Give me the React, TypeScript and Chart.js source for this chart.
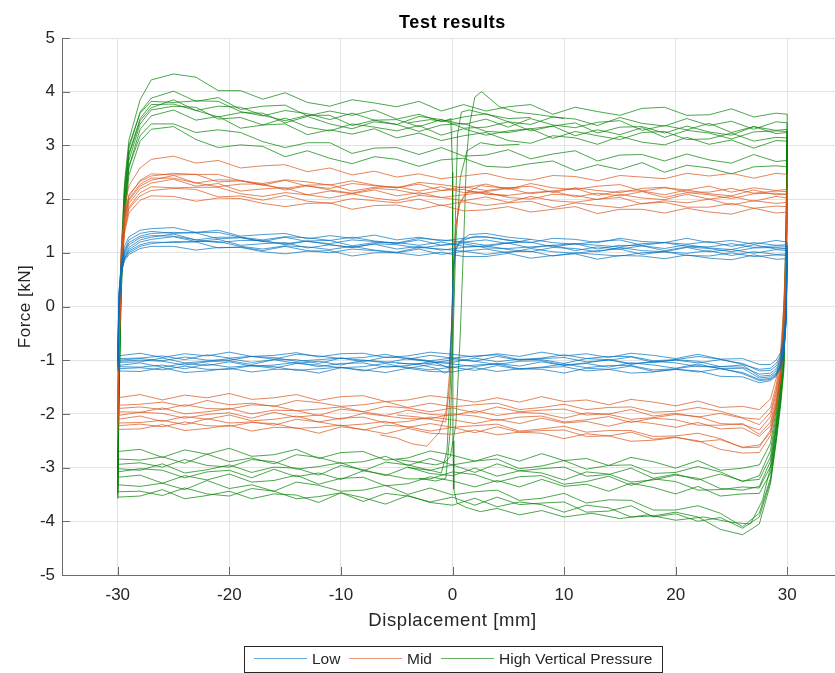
import { useEffect, useRef } from "react";
import { Chart, registerables } from "chart.js";

Chart.register(...registerables);

// Axis ticks
const X_TICKS = [-30, -20, -10, 0, 10, 20, 30];
const Y_TICKS = [-5, -4, -3, -2, -1, 0, 1, 2, 3, 4, 5];

// Series names and colours (r, g, b)
const SERIES_NAMES = ["Low", "Mid", "High Vertical Pressure"];
const SERIES_RGB = ["0, 114, 189", "217, 83, 25", "0, 128, 0"];

// Displacement [mm] along the loading branch (moving right) and the unloading branch (moving left)
const X_UP = [-30, -29.9, -29.7, -29.4, -29, -28, -27, -25, -23, -21, -19, -17, -15, -13, -11, -9, -7, -5, -3, -1, 1, 3, 5, 7, 9, 11, 13, 15, 17, 19, 21, 23, 25, 27, 29, 30];
const X_DOWN = [30, 29.9, 29.7, 29.4, 29, 28.5, 27.5, 26, 24, 22, 20, 18, 16, 14, 12, 10, 8, 6, 4, 2, 0, -2, -4, -6, -8, -10, -12, -14, -16, -18, -20, -22, -24, -26, -28, -30];

// Force [kN] — low vertical pressure
const LOW_UP = [
  [-1.02, 0.15, 0.80, 1.12, 1.30, 1.42, 1.45, 1.47, 1.38, 1.42, 1.31, 1.34, 1.36, 1.26, 1.32, 1.27, 1.33, 1.24, 1.29, 1.22, 1.27, 1.30, 1.23, 1.19, 1.27, 1.25, 1.19, 1.27, 1.21, 1.19, 1.27, 1.19, 1.23, 1.16, 1.23, 1.20],
  [-1.10, 0.02, 0.72, 1.05, 1.24, 1.36, 1.40, 1.36, 1.38, 1.38, 1.29, 1.24, 1.30, 1.28, 1.23, 1.29, 1.22, 1.18, 1.27, 1.24, 1.20, 1.24, 1.17, 1.25, 1.19, 1.16, 1.21, 1.24, 1.14, 1.19, 1.16, 1.21, 1.12, 1.19, 1.14, 1.15],
  [-0.98, 0.22, 0.76, 1.02, 1.19, 1.31, 1.36, 1.38, 1.37, 1.26, 1.28, 1.21, 1.29, 1.21, 1.17, 1.24, 1.21, 1.17, 1.24, 1.14, 1.20, 1.14, 1.19, 1.20, 1.11, 1.17, 1.14, 1.11, 1.17, 1.19, 1.12, 1.11, 1.17, 1.10, 1.13, 1.12],
  [-1.16, -0.08, 0.63, 0.98, 1.15, 1.28, 1.32, 1.31, 1.24, 1.29, 1.29, 1.21, 1.17, 1.22, 1.23, 1.13, 1.19, 1.19, 1.14, 1.20, 1.12, 1.12, 1.18, 1.09, 1.14, 1.17, 1.07, 1.14, 1.13, 1.08, 1.15, 1.09, 1.06, 1.15, 1.07, 1.08],
  [-1.05, 0.10, 0.66, 0.94, 1.10, 1.24, 1.29, 1.35, 1.24, 1.19, 1.23, 1.23, 1.15, 1.22, 1.15, 1.10, 1.17, 1.15, 1.09, 1.14, 1.17, 1.09, 1.08, 1.11, 1.14, 1.04, 1.11, 1.07, 1.13, 1.04, 1.11, 1.08, 1.02, 1.09, 1.10, 1.08],
  [-1.21, -0.12, 0.57, 0.90, 1.06, 1.20, 1.25, 1.30, 1.21, 1.25, 1.14, 1.17, 1.19, 1.09, 1.15, 1.10, 1.16, 1.07, 1.12, 1.05, 1.10, 1.13, 1.06, 1.02, 1.10, 1.08, 1.02, 1.10, 1.04, 1.02, 1.10, 1.02, 1.06, 0.99, 1.06, 1.04],
  [-0.94, 0.26, 0.70, 0.90, 1.03, 1.15, 1.20, 1.19, 1.21, 1.21, 1.12, 1.07, 1.13, 1.11, 1.06, 1.12, 1.05, 1.01, 1.10, 1.07, 1.03, 1.07, 1.00, 1.08, 1.02, 0.99, 1.04, 1.07, 0.97, 1.02, 0.99, 1.04, 0.95, 1.02, 0.97, 0.98],
  [-1.12, 0.00, 0.62, 0.88, 1.00, 1.12, 1.17, 1.21, 1.20, 1.09, 1.11, 1.04, 1.12, 1.04, 1.00, 1.07, 1.04, 1.00, 1.07, 0.97, 1.03, 0.97, 1.02, 1.03, 0.94, 1.00, 0.97, 0.94, 1.00, 1.02, 0.95, 0.94, 1.00, 0.93, 0.96, 0.95],
  [-1.00, 0.18, 0.65, 0.85, 0.97, 1.08, 1.12, 1.12, 1.05, 1.10, 1.10, 1.02, 0.98, 1.03, 1.04, 0.94, 1.00, 1.00, 0.95, 1.01, 0.93, 0.93, 0.99, 0.90, 0.95, 0.98, 0.88, 0.95, 0.94, 0.89, 0.96, 0.90, 0.87, 0.96, 0.88, 0.89],
];
const LOW_DOWN = [
  [1.20, -0.02, -0.58, -0.86, -1.00, -1.08, -1.08, -0.97, -0.98, -0.89, -0.97, -0.91, -0.87, -0.95, -0.88, -0.92, -0.85, -0.93, -0.88, -0.94, -0.89, -0.85, -0.92, -0.95, -0.87, -0.88, -0.94, -0.86, -0.91, -0.93, -0.85, -0.92, -0.88, -0.95, -0.87, -0.92],
  [1.15, -0.08, -0.64, -0.92, -1.06, -1.15, -1.17, -1.08, -0.98, -0.93, -0.99, -1.01, -0.93, -0.93, -0.97, -0.90, -0.96, -0.99, -0.90, -0.92, -0.96, -0.91, -0.98, -0.89, -0.95, -0.97, -0.92, -0.89, -0.98, -0.93, -0.96, -0.90, -0.99, -0.92, -0.96, -0.97],
  [1.12, -0.12, -0.70, -0.97, -1.11, -1.19, -1.20, -1.06, -0.99, -1.05, -1.00, -1.04, -0.94, -1.00, -1.03, -0.95, -0.97, -1.00, -0.93, -1.02, -0.96, -1.01, -0.96, -0.94, -1.03, -0.96, -0.99, -1.02, -0.95, -0.93, -1.00, -1.00, -0.94, -1.01, -0.97, -1.00],
  [1.08, -0.18, -0.75, -1.01, -1.16, -1.24, -1.26, -1.13, -1.12, -1.02, -0.99, -1.04, -1.06, -0.99, -0.97, -1.06, -0.99, -0.98, -1.03, -0.96, -1.04, -1.03, -0.97, -1.05, -1.00, -0.96, -1.06, -0.99, -0.99, -1.04, -0.97, -1.02, -1.05, -0.96, -1.03, -1.04],
  [1.08, -0.22, -0.80, -1.05, -1.20, -1.28, -1.30, -1.09, -1.12, -1.12, -1.05, -1.02, -1.08, -0.99, -1.05, -1.09, -1.01, -1.02, -1.08, -1.02, -0.99, -1.06, -1.07, -1.03, -1.00, -1.09, -1.02, -1.06, -0.99, -1.08, -1.01, -1.03, -1.09, -1.02, -1.00, -1.02],
  [1.04, -0.26, -0.84, -1.09, -1.24, -1.31, -1.33, -1.15, -1.16, -1.07, -1.15, -1.09, -1.05, -1.13, -1.06, -1.10, -1.03, -1.11, -1.06, -1.12, -1.07, -1.03, -1.10, -1.13, -1.05, -1.06, -1.12, -1.04, -1.09, -1.11, -1.03, -1.10, -1.06, -1.13, -1.05, -1.10],
  [0.98, -0.30, -0.88, -1.13, -1.28, -1.36, -1.38, -1.25, -1.15, -1.10, -1.16, -1.18, -1.10, -1.10, -1.14, -1.07, -1.13, -1.16, -1.07, -1.09, -1.13, -1.08, -1.15, -1.06, -1.12, -1.14, -1.09, -1.06, -1.15, -1.10, -1.13, -1.07, -1.16, -1.09, -1.13, -1.12],
  [0.95, -0.24, -0.82, -1.10, -1.26, -1.34, -1.36, -1.23, -1.16, -1.22, -1.17, -1.21, -1.11, -1.17, -1.20, -1.12, -1.14, -1.17, -1.10, -1.19, -1.13, -1.18, -1.13, -1.11, -1.20, -1.13, -1.16, -1.19, -1.12, -1.10, -1.17, -1.17, -1.11, -1.18, -1.14, -1.16],
  [0.89, -0.28, -0.86, -1.14, -1.30, -1.38, -1.42, -1.31, -1.30, -1.20, -1.17, -1.22, -1.24, -1.17, -1.15, -1.24, -1.17, -1.16, -1.21, -1.14, -1.22, -1.21, -1.15, -1.23, -1.18, -1.14, -1.24, -1.17, -1.17, -1.22, -1.15, -1.20, -1.23, -1.14, -1.21, -1.20],
];
// Short reversals around zero displacement
const LOW_ZERO_X = [
  [-5, -3, -1.5, -0.7, -0.3, -0.1, 0, 0.1, 0.3, 0.7, 1.5, 3, 5, 7],
  [-4, -2, -0.8, -0.3, -0.1, 0, 0.1, 0.3, 0.8, 2, 4, 6],
];
const LOW_ZERO_Y = [
  [-1.05, -1.08, -1.15, -1.24, -1.2, -0.6, 0.1, 0.7, 1.05, 1.22, 1.34, 1.36, 1.29, 1.25],
  [-0.98, -1.02, -1.1, -1.15, -0.4, 0.3, 0.85, 1.1, 1.22, 1.31, 1.27, 1.21],
];

// Force [kN] — mid vertical pressure
const MID_UP = [
  [-1.72, -0.30, 1.05, 1.85, 2.25, 2.58, 2.74, 2.80, 2.67, 2.72, 2.58, 2.62, 2.64, 2.51, 2.58, 2.45, 2.52, 2.41, 2.47, 2.38, 2.43, 2.48, 2.38, 2.35, 2.44, 2.42, 2.34, 2.44, 2.41, 2.38, 2.48, 2.43, 2.48, 2.39, 2.48, 2.46],
  [-2.05, -0.65, 0.80, 1.65, 2.05, 2.35, 2.47, 2.45, 2.46, 2.46, 2.34, 2.29, 2.36, 2.32, 2.26, 2.34, 2.26, 2.21, 2.31, 2.27, 2.21, 2.28, 2.18, 2.29, 2.21, 2.18, 2.24, 2.27, 2.15, 2.21, 2.17, 2.24, 2.13, 2.21, 2.16, 2.18],
  [-1.88, -0.50, 0.90, 1.70, 2.08, 2.33, 2.43, 2.48, 2.46, 2.32, 2.34, 2.26, 2.35, 2.24, 2.20, 2.29, 2.25, 2.21, 2.28, 2.16, 2.23, 2.16, 2.21, 2.24, 2.12, 2.21, 2.16, 2.12, 2.20, 2.22, 2.13, 2.13, 2.20, 2.11, 2.15, 2.14],
  [-2.15, -0.80, 0.70, 1.58, 2.00, 2.28, 2.39, 2.39, 2.30, 2.36, 2.35, 2.26, 2.20, 2.26, 2.27, 2.15, 2.22, 2.23, 2.15, 2.23, 2.12, 2.14, 2.20, 2.10, 2.15, 2.20, 2.07, 2.15, 2.15, 2.08, 2.17, 2.10, 2.06, 2.17, 2.08, 2.10],
  [-1.95, -0.55, 0.85, 1.62, 1.98, 2.24, 2.35, 2.44, 2.30, 2.23, 2.28, 2.28, 2.17, 2.25, 2.17, 2.11, 2.20, 2.17, 2.09, 2.16, 2.18, 2.09, 2.07, 2.12, 2.15, 2.04, 2.11, 2.06, 2.14, 2.03, 2.12, 2.08, 2.01, 2.10, 2.11, 2.08],
  [-2.25, -0.90, 0.60, 1.50, 1.92, 2.19, 2.30, 2.37, 2.24, 2.29, 2.15, 2.19, 2.21, 2.08, 2.15, 2.10, 2.17, 2.06, 2.12, 2.03, 2.08, 2.13, 2.03, 2.00, 2.09, 2.07, 1.99, 2.09, 2.02, 1.99, 2.09, 2.00, 2.05, 1.96, 2.05, 2.02],
  [-2.32, -1.00, 0.50, 1.42, 1.85, 2.12, 2.23, 2.21, 2.22, 2.22, 2.10, 2.05, 2.12, 2.08, 2.02, 2.10, 2.02, 1.97, 2.07, 2.03, 1.97, 2.04, 1.94, 2.05, 1.97, 1.94, 2.00, 2.03, 1.91, 1.97, 1.93, 2.00, 1.89, 1.97, 1.92, 1.94],
  [-2.08, -0.70, 0.65, 1.45, 1.82, 2.06, 2.16, 2.20, 2.18, 2.04, 2.06, 1.98, 2.07, 1.96, 1.92, 2.01, 1.97, 1.93, 2.00, 1.88, 1.95, 1.88, 1.93, 1.96, 1.84, 1.93, 1.88, 1.84, 1.92, 1.94, 1.85, 1.85, 1.92, 1.83, 1.87, 1.86],
  [-2.20, -0.85, 0.55, 1.36, 1.74, 1.98, 2.06, 2.05, 1.96, 2.02, 2.01, 1.92, 1.86, 1.92, 1.93, 1.81, 1.88, 1.89, 1.81, 1.89, 1.78, 1.80, 1.86, 1.76, 1.81, 1.86, 1.73, 1.81, 1.81, 1.74, 1.83, 1.76, 1.72, 1.83, 1.74, 1.76],
];
const MID_DOWN = [
  [2.46, 1.30, 0.05, -0.85, -1.35, -1.72, -1.92, -1.86, -1.88, -1.76, -1.85, -1.78, -1.73, -1.83, -1.74, -1.77, -1.68, -1.78, -1.70, -1.78, -1.71, -1.66, -1.74, -1.77, -1.66, -1.68, -1.75, -1.64, -1.70, -1.73, -1.62, -1.70, -1.65, -1.74, -1.64, -1.70],
  [2.18, 1.05, -0.15, -1.00, -1.48, -1.88, -2.10, -2.07, -1.95, -1.88, -1.95, -1.97, -1.87, -1.88, -1.92, -1.82, -1.88, -1.92, -1.80, -1.83, -1.87, -1.80, -1.88, -1.77, -1.83, -1.86, -1.79, -1.75, -1.86, -1.80, -1.83, -1.75, -1.86, -1.78, -1.82, -1.84],
  [2.14, 0.95, -0.25, -1.08, -1.56, -1.97, -2.20, -2.08, -1.99, -2.06, -1.99, -2.04, -1.92, -2.00, -2.02, -1.91, -1.93, -1.96, -1.87, -1.98, -1.89, -1.96, -1.89, -1.86, -1.96, -1.87, -1.91, -1.94, -1.85, -1.83, -1.91, -1.90, -1.83, -1.92, -1.87, -1.90],
  [2.10, 0.85, -0.35, -1.15, -1.62, -2.05, -2.30, -2.20, -2.18, -2.05, -2.01, -2.07, -2.10, -2.01, -1.98, -2.08, -1.99, -1.97, -2.03, -1.94, -2.03, -2.01, -1.93, -2.03, -1.96, -1.91, -2.03, -1.94, -1.93, -2.00, -1.90, -1.96, -2.00, -1.89, -1.97, -1.96],
  [2.08, 0.75, -0.45, -1.22, -1.70, -2.15, -2.38, -2.18, -2.21, -2.21, -2.11, -2.08, -2.16, -2.05, -2.11, -2.15, -2.04, -2.06, -2.12, -2.04, -2.00, -2.09, -2.09, -2.04, -1.99, -2.10, -2.02, -2.06, -1.97, -2.08, -1.98, -2.01, -2.08, -1.99, -1.97, -2.03],
  [2.02, 0.70, -0.50, -1.28, -1.78, -2.22, -2.42, -2.26, -2.28, -2.16, -2.25, -2.18, -2.13, -2.23, -2.14, -2.17, -2.08, -2.18, -2.10, -2.18, -2.11, -2.06, -2.14, -2.17, -2.06, -2.08, -2.15, -2.04, -2.10, -2.13, -2.02, -2.10, -2.05, -2.14, -2.04, -2.10],
  [1.94, 0.65, -0.55, -1.32, -1.82, -2.30, -2.62, -2.63, -2.46, -2.36, -2.41, -2.42, -2.31, -2.31, -2.34, -2.23, -2.28, -2.32, -2.19, -2.22, -2.25, -2.18, -2.25, -2.14, -2.19, -2.22, -2.15, -2.10, -2.21, -2.15, -2.17, -2.09, -2.20, -2.12, -2.16, -2.17],
  [1.86, 0.60, -0.60, -1.35, -1.85, -2.35, -2.58, -2.62, -2.48, -2.52, -2.43, -2.47, -2.34, -2.41, -2.42, -2.30, -2.31, -2.34, -2.24, -2.35, -2.25, -2.32, -2.24, -2.21, -2.30, -2.21, -2.25, -2.27, -2.18, -2.16, -2.23, -2.22, -2.15, -2.24, -2.19, -2.22],
  [1.76, 0.55, -0.65, -1.38, -1.90, -2.40, -2.72, -2.73, -2.66, -2.50, -2.44, -2.49, -2.51, -2.41, -2.37, -2.46, -2.36, -2.34, -2.39, -2.30, -2.38, -2.36, -2.27, -2.37, -2.29, -2.24, -2.36, -2.26, -2.25, -2.32, -2.21, -2.27, -2.31, -2.20, -2.28, -2.29],
];
const MID_ZERO_X = [
  [-6.5, -5, -3.6, -2.3, -1.2, -0.55, -0.25, -0.05, 0.1, 0.3, 0.6, 1.2, 2.5, 4, 6],
  [-5, -3, -1.5, -0.6, -0.25, -0.05, 0.1, 0.3, 0.7, 1.5, 3, 5],
];
const MID_ZERO_Y = [
  [-2.39, -2.45, -2.56, -2.6, -2.35, -1.93, -1.2, -0.2, 0.8, 1.5, 1.9, 2.12, 2.25, 2.22, 2.2],
  [-2.02, -2.06, -2.12, -2.15, -1.4, -0.3, 0.7, 1.5, 1.95, 2.15, 2.1, 2.06],
];

// Force [kN] — high vertical pressure
const HIGH_UP = [
  [-2.95, -1.00, 1.00, 2.30, 3.10, 3.85, 4.22, 4.33, 4.27, 4.02, 4.02, 3.86, 3.98, 3.80, 3.73, 3.85, 3.79, 3.72, 3.82, 3.64, 3.76, 3.64, 3.72, 3.76, 3.58, 3.71, 3.63, 3.56, 3.69, 3.71, 3.56, 3.57, 3.68, 3.53, 3.60, 3.58],
  [-3.20, -1.30, 0.70, 2.10, 2.95, 3.62, 3.88, 4.01, 3.82, 3.89, 3.67, 3.73, 3.75, 3.55, 3.64, 3.56, 3.66, 3.49, 3.58, 3.44, 3.53, 3.59, 3.44, 3.39, 3.53, 3.49, 3.37, 3.52, 3.41, 3.36, 3.50, 3.37, 3.45, 3.30, 3.44, 3.42],
  [-3.05, -1.15, 0.85, 2.20, 3.00, 3.60, 3.82, 3.80, 3.83, 3.82, 3.63, 3.55, 3.65, 3.59, 3.48, 3.60, 3.47, 3.39, 3.54, 3.48, 3.39, 3.49, 3.34, 3.50, 3.38, 3.33, 3.43, 3.46, 3.28, 3.37, 3.29, 3.41, 3.24, 3.35, 3.28, 3.30],
  [-3.40, -1.50, 0.55, 1.95, 2.85, 3.50, 3.76, 3.77, 3.65, 3.73, 3.71, 3.56, 3.46, 3.56, 3.56, 3.37, 3.47, 3.48, 3.35, 3.48, 3.32, 3.34, 3.44, 3.27, 3.36, 3.42, 3.23, 3.34, 3.35, 3.23, 3.36, 3.25, 3.19, 3.35, 3.22, 3.24],
  [-3.30, -1.40, 0.60, 2.00, 2.82, 3.46, 3.70, 3.85, 3.65, 3.53, 3.61, 3.60, 3.42, 3.54, 3.40, 3.31, 3.44, 3.39, 3.26, 3.38, 3.41, 3.26, 3.24, 3.31, 3.36, 3.18, 3.29, 3.20, 3.33, 3.15, 3.28, 3.23, 3.12, 3.25, 3.27, 3.26],
  [-3.50, -1.65, 0.40, 1.85, 2.72, 3.40, 3.66, 3.73, 3.71, 3.49, 3.52, 3.38, 3.51, 3.34, 3.27, 3.40, 3.34, 3.27, 3.37, 3.19, 3.31, 3.19, 3.27, 3.31, 3.13, 3.26, 3.18, 3.11, 3.24, 3.26, 3.11, 3.12, 3.23, 3.08, 3.15, 3.14],
  [-3.55, -1.80, 0.25, 1.70, 2.60, 3.30, 3.55, 3.66, 3.47, 3.54, 3.32, 3.38, 3.40, 3.20, 3.29, 3.21, 3.31, 3.14, 3.23, 3.09, 3.18, 3.24, 3.09, 3.04, 3.18, 3.14, 3.02, 3.17, 3.06, 3.01, 3.15, 3.02, 3.10, 2.95, 3.09, 3.08],
  [-3.45, -1.55, 0.45, 1.80, 2.60, 3.18, 3.40, 3.40, 3.24, 3.29, 3.24, 3.07, 2.96, 3.05, 3.05, 2.85, 2.95, 2.96, 2.83, 2.96, 2.80, 2.82, 2.92, 2.75, 2.84, 2.90, 2.71, 2.82, 2.83, 2.71, 2.84, 2.73, 2.67, 2.83, 2.70, 2.72],
  [-3.58, -1.85, 0.20, 1.60, 2.45, 3.08, 3.30, 3.35, 3.11, 2.96, 3.01, 2.98, 2.79, 2.90, 2.76, 2.66, 2.79, 2.74, 2.61, 2.73, 2.76, 2.61, 2.59, 2.66, 2.71, 2.53, 2.64, 2.55, 2.68, 2.50, 2.63, 2.58, 2.47, 2.60, 2.62, 2.60],
];
const HIGH_DOWN = [
  [3.58, 1.40, -0.30, -1.20, -1.95, -2.55, -2.95, -3.01, -3.05, -2.87, -3.01, -2.89, -2.81, -2.96, -2.83, -2.87, -2.74, -2.88, -2.76, -2.88, -2.77, -2.69, -2.82, -2.86, -2.70, -2.72, -2.83, -2.66, -2.76, -2.79, -2.64, -2.75, -2.67, -2.81, -2.66, -2.70],
  [3.42, 1.20, -0.45, -1.32, -2.05, -2.68, -3.15, -3.26, -3.08, -2.98, -3.09, -3.11, -2.95, -2.96, -3.03, -2.87, -2.97, -3.02, -2.84, -2.88, -2.95, -2.83, -2.96, -2.79, -2.89, -2.92, -2.81, -2.76, -2.93, -2.82, -2.89, -2.75, -2.92, -2.80, -2.86, -2.84],
  [3.30, 0.90, -0.65, -1.45, -2.15, -2.80, -3.22, -3.25, -3.12, -3.23, -3.12, -3.20, -3.01, -3.13, -3.16, -2.99, -3.02, -3.06, -2.93, -3.09, -2.95, -3.05, -2.95, -2.90, -3.06, -2.91, -2.98, -3.03, -2.89, -2.85, -2.99, -2.96, -2.85, -2.99, -2.91, -2.94],
  [3.24, 0.80, -0.75, -1.52, -2.22, -2.88, -3.35, -3.42, -3.39, -3.20, -3.14, -3.23, -3.27, -3.12, -3.08, -3.23, -3.10, -3.06, -3.16, -3.01, -3.15, -3.11, -2.99, -3.15, -3.04, -2.96, -3.14, -3.01, -2.99, -3.09, -2.95, -3.04, -3.10, -2.93, -3.05, -3.02],
  [3.26, 0.70, -0.85, -1.60, -2.30, -2.98, -3.38, -3.36, -3.41, -3.42, -3.26, -3.21, -3.33, -3.16, -3.26, -3.31, -3.15, -3.17, -3.27, -3.13, -3.08, -3.21, -3.21, -3.13, -3.06, -3.22, -3.10, -3.17, -3.03, -3.19, -3.05, -3.08, -3.19, -3.05, -3.02, -3.08],
  [3.14, 0.55, -1.00, -1.72, -2.42, -3.10, -3.48, -3.49, -3.53, -3.35, -3.49, -3.37, -3.29, -3.44, -3.31, -3.35, -3.22, -3.36, -3.24, -3.36, -3.25, -3.17, -3.30, -3.34, -3.18, -3.20, -3.31, -3.14, -3.24, -3.27, -3.12, -3.23, -3.15, -3.29, -3.14, -3.18],
  [3.08, 0.50, -1.05, -1.75, -2.45, -3.20, -3.85, -4.10, -3.85, -3.71, -3.79, -3.79, -3.61, -3.60, -3.66, -3.48, -3.57, -3.61, -3.42, -3.45, -3.51, -3.38, -3.50, -3.33, -3.42, -3.44, -3.33, -3.27, -3.44, -3.32, -3.39, -3.24, -3.41, -3.29, -3.35, -3.32],
  [2.72, 0.40, -1.10, -1.80, -2.50, -3.25, -3.92, -4.13, -3.93, -4.00, -3.86, -3.92, -3.71, -3.81, -3.83, -3.64, -3.66, -3.69, -3.55, -3.70, -3.55, -3.64, -3.53, -3.48, -3.63, -3.47, -3.54, -3.58, -3.44, -3.39, -3.53, -3.49, -3.38, -3.52, -3.44, -3.45],
  [2.60, 0.30, -1.20, -1.85, -2.55, -3.30, -4.05, -4.25, -4.15, -3.92, -3.83, -3.90, -3.92, -3.75, -3.70, -3.83, -3.69, -3.64, -3.73, -3.57, -3.70, -3.65, -3.52, -3.68, -3.56, -3.47, -3.65, -3.51, -3.49, -3.58, -3.44, -3.52, -3.58, -3.41, -3.53, -3.55],
];
const HIGH_ZERO_X = [
  [-5, -3, -1.5, -0.7, -0.2, 0.3, 0.7, 1.0, 1.25, 1.5, 2.0, 2.6, 3.3, 4.2, 5.7, 7.8, 10],
  [-4, -2, -1, -0.5, -0.2, 0.1, 0.3, 0.45, 0.8, 1.5, 3, 5, 7],
  [-3, -1.5, -0.6, -0.2, 0.05, 0.3, 0.7, 1.3, 2.5, 4, 6],
  [-4, -2, -0.8, -0.15, 0, 0.02, 0.05, 0.12, 0.4, 1.2, 2.5, 4, 6, 8, 10, 12.5, 15, 17.5, 20, 22.5, 25, 26.7, 27.8, 28.6, 29.3, 29.8, 30],
];
const HIGH_ZERO_Y = [
  [-2.85, -2.9, -2.95, -2.9, -2.8, -2.2, -0.5, 1.2, 2.73, 3.35, 3.9, 4.0, 3.88, 3.72, 3.62, 3.57, 3.5],
  [-3.0, -3.05, -3.1, -2.7, -1.5, 0.2, 2.0, 3.2, 3.62, 3.66, 3.58, 3.5, 3.52],
  [-3.2, -3.25, -3.2, -2.3, -0.6, 1.2, 2.4, 2.9, 3.05, 3.0, 3.02],
  [3.42, 3.48, 3.45, 3.5, 2.5, 0.0, -2.5, -3.4, -3.66, -3.74, -3.82, -3.76, -3.88, -3.8, -3.92, -3.85, -3.95, -3.88, -3.98, -3.92, -4.02, -4.05, -3.6, -2.9, -1.8, 0.5, 3.0],
];

const FONT = "'Liberation Sans', Arial, Helvetica, sans-serif";
const AXIS_COLOR = "#6b6b6b";
const TEXT_COLOR = "#262626";
const LINE_ALPHA = 0.7;
const LEGEND_ALPHA = 0.6;

const decorations = {
  id: "decorations",
  afterDraw(chart: any) {
    const { ctx, chartArea: a, scales } = chart;
    const xs = scales.x;
    const ys = scales.y;
    ctx.save();

    // inward tick marks
    ctx.strokeStyle = AXIS_COLOR;
    ctx.lineWidth = 1;
    ctx.beginPath();
    X_TICKS.forEach((v) => {
      const px = Math.round(xs.getPixelForValue(v)) + 0.5;
      ctx.moveTo(px, a.bottom);
      ctx.lineTo(px, a.bottom - 8);
    });
    Y_TICKS.forEach((v) => {
      const py = Math.round(ys.getPixelForValue(v)) + 0.5;
      ctx.moveTo(a.left, py);
      ctx.lineTo(a.left + 8, py);
    });
    ctx.stroke();

    const cx = (a.left + a.right) / 2;

    // title
    ctx.fillStyle = "#000000";
    ctx.font = `bold 18px ${FONT}`;
    ctx.textAlign = "center";
    ctx.textBaseline = "alphabetic";
    (ctx as any).letterSpacing = "0.6px";
    ctx.fillText("Test results", cx, 28);

    // x axis title
    ctx.fillStyle = TEXT_COLOR;
    ctx.font = `18.5px ${FONT}`;
    (ctx as any).letterSpacing = "0.6px";
    ctx.fillText("Displacement [mm]", cx, 626);

    // y axis title
    ctx.save();
    ctx.translate(30, (a.top + a.bottom) / 2);
    ctx.rotate(-Math.PI / 2);
    ctx.font = `17px ${FONT}`;
    (ctx as any).letterSpacing = "0.5px";
    ctx.fillText("Force [kN]", 0, 0);
    ctx.restore();
    (ctx as any).letterSpacing = "0px";

    // legend box
    const boxX = 244.5;
    const boxY = 646.5;
    ctx.fillStyle = "#ffffff";
    ctx.fillRect(boxX, boxY, 418, 26);
    ctx.strokeStyle = "#262626";
    ctx.lineWidth = 1;
    ctx.strokeRect(boxX, boxY, 418, 26);

    const lineStarts = [254, 349, 441];
    const textStarts = [312, 407, 499];
    ctx.font = `15.5px ${FONT}`;
    ctx.textAlign = "left";
    ctx.textBaseline = "middle";
    SERIES_NAMES.forEach((name, i) => {
      ctx.strokeStyle = `rgba(${SERIES_RGB[i]}, ${LEGEND_ALPHA})`;
      ctx.beginPath();
      ctx.moveTo(lineStarts[i], 658.5);
      ctx.lineTo(lineStarts[i] + 53, 658.5);
      ctx.stroke();
      ctx.fillStyle = TEXT_COLOR;
      ctx.fillText(name, textStarts[i], 659.5);
    });

    ctx.restore();
  },
};

export default function App() {
  const canvasRef = useRef<HTMLCanvasElement | null>(null);

  useEffect(() => {
    document.body.style.margin = "0";
    const canvas = canvasRef.current;
    if (!canvas) return;

    const groups = [
      { up: LOW_UP, down: LOW_DOWN, zx: LOW_ZERO_X, zy: LOW_ZERO_Y },
      { up: MID_UP, down: MID_DOWN, zx: MID_ZERO_X, zy: MID_ZERO_Y },
      { up: HIGH_UP, down: HIGH_DOWN, zx: HIGH_ZERO_X, zy: HIGH_ZERO_Y },
    ];

    const datasets: any[] = [];
    groups.forEach((g, gi) => {
      const color = `rgba(${SERIES_RGB[gi]}, ${LINE_ALPHA})`;
      const add = (xs: number[], ys: number[]) => {
        datasets.push({
          label: SERIES_NAMES[gi],
          data: xs.map((x, i) => ({ x, y: ys[i] })),
          borderColor: color,
          backgroundColor: color,
          borderWidth: 1,
          pointRadius: 0,
          showLine: true,
          fill: false,
          tension: 0,
        });
      };
      for (let i = 0; i < g.up.length; i++) {
        add(X_UP, g.up[i]);
        add(X_DOWN, g.down[i]);
      }
      g.zx.forEach((xs, i) => add(xs, g.zy[i]));
    });

    const chart = new Chart(canvas, {
      type: "scatter",
      data: { datasets },
      options: {
        responsive: false,
        maintainAspectRatio: false,
        animation: false,
        devicePixelRatio: 1,
        events: [],
        layout: { padding: { left: 0, top: 38, right: 2, bottom: 0 } },
        plugins: {
          legend: { display: false },
          tooltip: { enabled: false },
          title: { display: false },
        },
        scales: {
          x: {
            type: "linear",
            min: -35,
            max: 35,
            afterBuildTicks: (s: any) => {
              s.ticks = X_TICKS.map((v) => ({ value: v }));
            },
            afterFit: (s: any) => {
              s.height = 98;
            },
            grid: { color: "#e3e3e3", drawTicks: false },
            border: { display: true, color: AXIS_COLOR, width: 1 },
            ticks: {
              padding: 10,
              color: TEXT_COLOR,
              font: { family: FONT, size: 17 },
              maxRotation: 0,
              callback: (v: any) => String(v),
            },
          },
          y: {
            type: "linear",
            min: -5,
            max: 5,
            afterBuildTicks: (s: any) => {
              s.ticks = Y_TICKS.map((v) => ({ value: v }));
            },
            afterFit: (s: any) => {
              s.width = 62;
            },
            grid: { color: "#e3e3e3", drawTicks: false },
            border: { display: true, color: AXIS_COLOR, width: 1 },
            ticks: {
              padding: 7,
              color: TEXT_COLOR,
              font: { family: FONT, size: 17 },
              callback: (v: any) => String(v),
            },
          },
        },
      },
      plugins: [decorations],
    });

    return () => chart.destroy();
  }, []);

  return (
    <div style={{ width: 835, height: 673, overflow: "hidden", position: "relative" }}>
      <canvas ref={canvasRef} width={845} height={673} style={{ display: "block" }} />
    </div>
  );
}
